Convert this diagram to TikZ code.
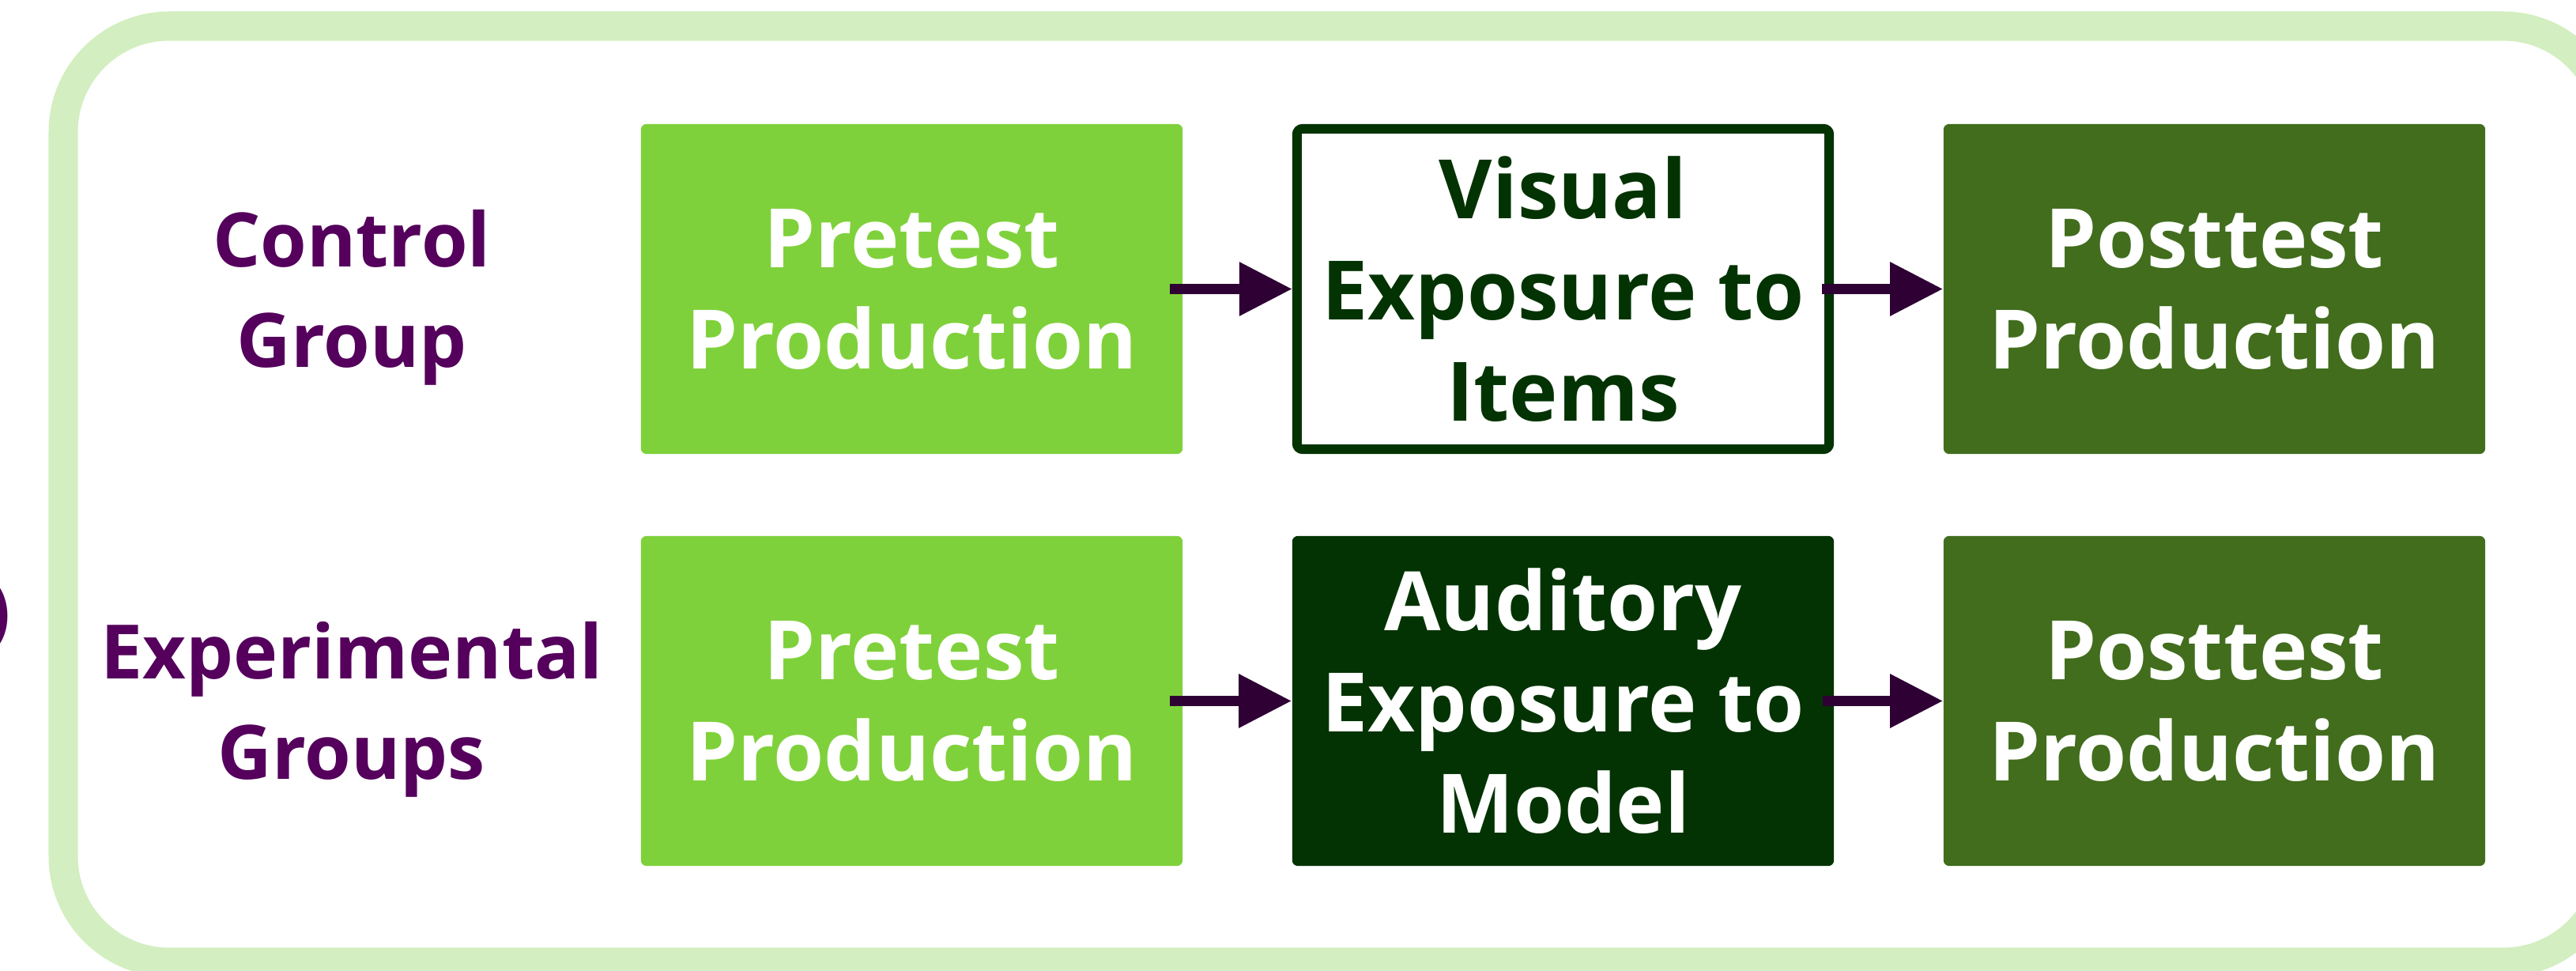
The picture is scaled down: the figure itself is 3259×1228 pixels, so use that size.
\documentclass[tikz,border=0pt]{standalone}
\usepackage{fontspec}
\setmainfont{Open Sans}
\usetikzlibrary{arrows.meta}

\definecolor{pregreen}{HTML}{7FD13B}
\definecolor{postgreen}{HTML}{416D1D}
\definecolor{darkgreen}{HTML}{033303}
\definecolor{framegreen}{HTML}{D3EEC0}
\definecolor{grouppurple}{HTML}{54005C}
\definecolor{arrowpurple}{HTML}{2E0034}

\tikzset{
  stage/.style={minimum width=6.85cm, minimum height=4.17cm, inner sep=0pt,
    rounded corners=2pt, align=center, text=white,
    font=\bfseries\fontsize{29.5}{36.4}\selectfont},
  group/.style={inner sep=0pt, align=center, text=grouppurple,
    font=\bfseries\fontsize{27}{36.1}\selectfont},
  flow/.style={draw=arrowpurple, line width=0.13cm,
    -{Triangle[length=0.67cm,width=0.65cm]}}
}

\begin{document}
\begin{tikzpicture}[x=0.01cm,y=-0.01cm]
\useasboundingbox (0,0) rectangle (3259,1228);

% frame round both groups
\draw[framegreen, line width=0.37cm, rounded corners=1.34cm] (80,33) rectangle (3301,1217);
\node[group, anchor=east] (paren) at (14,779) {)};

\node[group] (ctrl) at (445,376) {Control\\Group};
\node[group] (exp) at (445,897) {Experimental\\Groups};

\node[stage, fill=pregreen] (pre1) at (1153.5,365.5) {Pretest\\Production};
\node[stage, fill=white, draw=darkgreen, line width=0.12cm, text=darkgreen,
  minimum width=6.73cm, minimum height=4.05cm] (vis) at (1977.5,365.5) {Visual\\Exposure to\\Items};
\node[stage, fill=postgreen] (post1) at (2801.5,365.5) {Posttest\\Production};

\node[stage, fill=pregreen] (pre2) at (1153.5,886.5) {Pretest\\Production};
\node[stage, fill=darkgreen] (aud) at (1977.5,886.5) {Auditory\\Exposure to\\Model};
\node[stage, fill=postgreen] (post2) at (2801.5,886.5) {Posttest\\Production};

\draw[flow] ([xshift=-0.17cm]pre1.east) -- (vis.west);
\draw[flow] ([xshift=-0.15cm]vis.east) -- (post1.west);
\draw[flow] ([xshift=-0.17cm]pre2.east) -- (aud.west);
\draw[flow] ([xshift=-0.15cm]aud.east) -- (post2.west);
\end{tikzpicture}
\end{document}
